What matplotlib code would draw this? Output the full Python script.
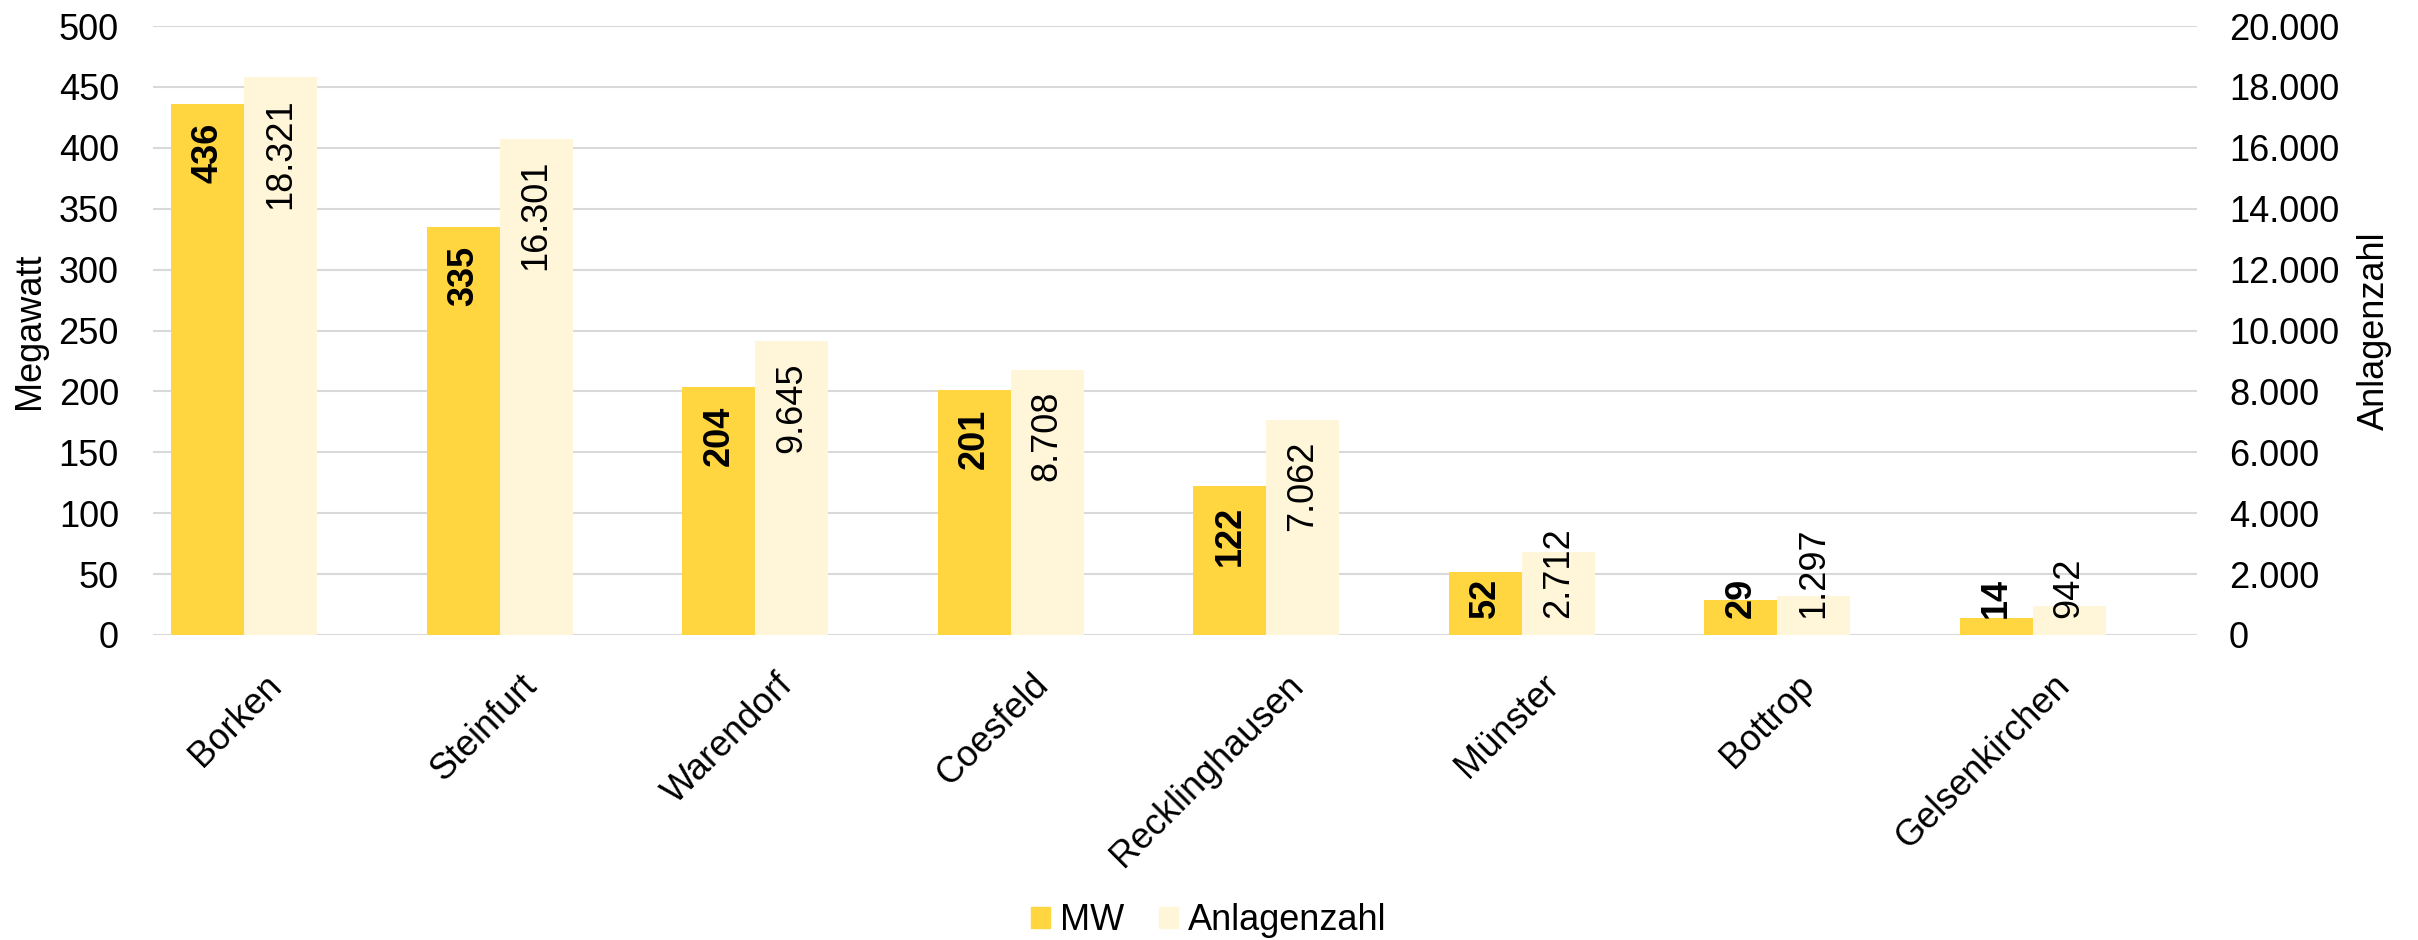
import matplotlib
matplotlib.use("Agg")
import matplotlib.pyplot as plt
import matplotlib.transforms as mtransforms
from matplotlib.ticker import FuncFormatter
from matplotlib.patches import Patch
import numpy as np

plt.rcParams['font.family'] = ['Liberation Sans', 'DejaVu Sans']

kreise = ["Borken", "Steinfurt", "Warendorf", "Coesfeld", "Recklinghausen",
          "Münster", "Bottrop", "Gelsenkirchen"]
mw = [436, 335, 204, 201, 122, 52, 29, 14]
anlagen = [18321, 16301, 9645, 8708, 7062, 2712, 1297, 942]

col_mw = "#FFD540"
col_anl = "#FFF6DA"
fs = 26


def de_fmt(v, pos=None):
    return f"{v:,.0f}".replace(",", ".")


fig = plt.figure(figsize=(24.18, 9.4), dpi=100)
ax = fig.add_axes([153 / 2418, 1 - 635 / 940, 2044 / 2418, 609 / 940])
ax2 = ax.twinx()

x = np.arange(len(kreise))
w = 0.2857
ax.bar(x - w, mw, width=w, color=col_mw, align="center", zorder=2)
ax2.bar(x, anlagen, width=w, color=col_anl, align="center", zorder=2)

ax.set_xlim(-0.5, len(kreise) - 0.5)
ax.set_ylim(0, 500)
ax2.set_ylim(0, 20000)
ax.set_yticks(np.arange(0, 501, 50))
ax2.set_yticks(np.arange(0, 20001, 2000))
ax2.yaxis.set_major_formatter(FuncFormatter(de_fmt))

ax.grid(axis="y", color="#D9D9D9", linewidth=1.5, zorder=0)
ax.set_axisbelow(True)
for a in (ax, ax2):
    for s in a.spines.values():
        s.set_visible(False)

ax.tick_params(axis="y", length=0, pad=24.5, labelsize=fs)
ax2.tick_params(axis="y", length=0, pad=23, labelsize=fs)
ax.tick_params(axis="x", length=0, pad=23.5, labelsize=fs)
ax.set_xticks(x)
ax.set_xticklabels(kreise, rotation=45, ha="right")
shift = mtransforms.ScaledTranslation(8 / 100, 0, fig.dpi_scale_trans)
for lab in ax.get_xticklabels():
    lab.set_transform(lab.get_transform() + shift)

ax.set_ylabel("Megawatt", fontsize=fs, va="center")
ax.yaxis.set_label_coords((29 - 153) / 2044, 0.5)
ax2.set_ylabel("Anlagenzahl", fontsize=fs, rotation=90, va="center")
ax2.yaxis.set_label_coords((2374 - 153) / 2044, 0.5)

# value labels inside bar end, pushed up when the bar is too short
labels = []
for xi, v in zip(x - w, mw):
    t = ax.annotate(str(v), (xi, v), xytext=(0, -19), textcoords="offset pixels",
                    rotation=90, ha="center", va="top", fontsize=fs,
                    fontweight="bold", zorder=5)
    labels.append((ax, t, xi))
for xi, v in zip(x, anlagen):
    t = ax2.annotate(de_fmt(v), (xi, v), xytext=(0, -21), textcoords="offset pixels",
                     rotation=90, ha="center", va="top", fontsize=fs, zorder=5)
    labels.append((ax2, t, xi))

fig.canvas.draw()
renderer = fig.canvas.get_renderer()
base = ax.transData.transform((0, 0))[1]
for a, t, xi in labels:
    bb = t.get_window_extent(renderer)
    if bb.y0 < base + 17:
        t.xy = (xi, 0)
        t.set_va("bottom")
        t.xyann = (0, 17)

handles = [Patch(color=col_mw, label="MW"), Patch(color=col_anl, label="Anlagenzahl")]
fig.legend(handles=handles, loc="center", bbox_to_anchor=(0.5, 1 - 921 / 940),
           ncol=2, frameon=False, fontsize=fs, handlelength=0.53, handleheight=0.53,
           handletextpad=0.28, columnspacing=0.95, borderpad=0)

fig.savefig("out.png", dpi=100)
